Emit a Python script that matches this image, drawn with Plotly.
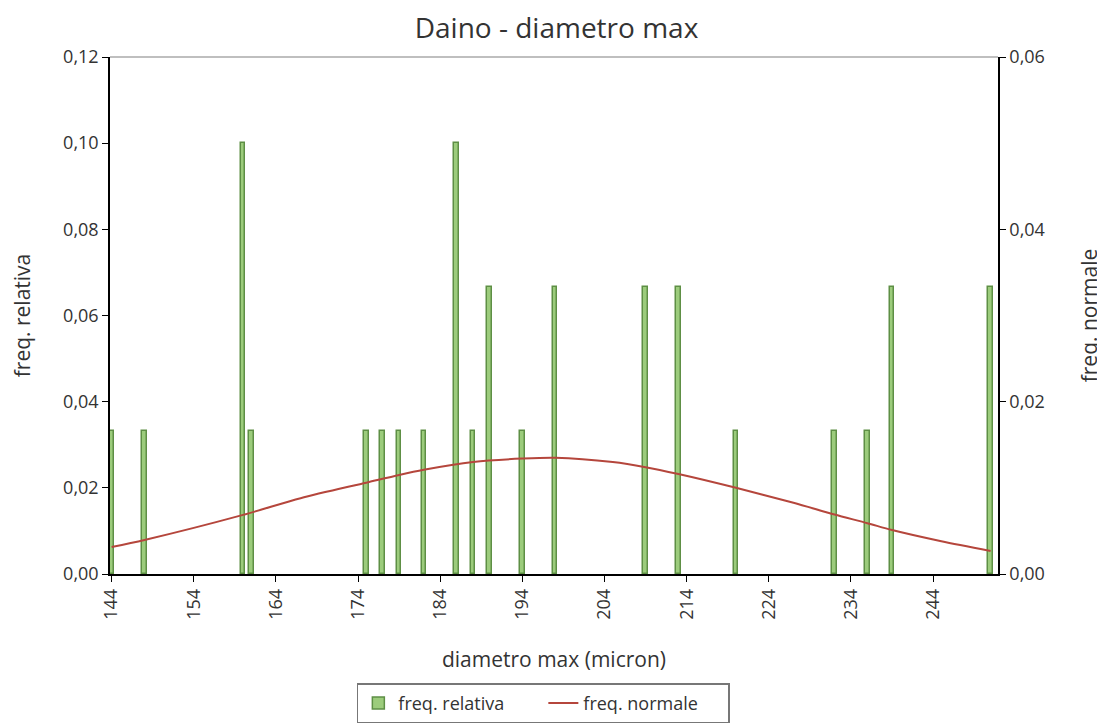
import plotly.graph_objects as go

# diametro max (micron) and relative frequency of each class
diametro = [144, 148, 160, 161, 175, 177, 179, 182, 186, 188,
            190, 194, 198, 209, 213, 220, 232, 236, 239, 251]
freq_relativa = [0.0333, 0.0333, 0.1, 0.0333, 0.0333, 0.0333, 0.0333, 0.0333, 0.1, 0.0333,
                 0.0667, 0.0333, 0.0667, 0.0667, 0.0667, 0.0333, 0.0333, 0.0333, 0.0667, 0.0667]

# normal curve (right axis)
x_normale = [144, 148, 160, 167, 175, 179, 182, 188, 194, 198,
             205, 209, 213, 220, 227, 232, 236, 239, 245, 251]
freq_normale = [0.00314, 0.00395, 0.00686, 0.00880, 0.0106, 0.0115, 0.0121, 0.0130, 0.0134, 0.0135,
                0.0130, 0.0124, 0.0116, 0.0100, 0.00826, 0.00690, 0.00590, 0.0051, 0.00380, 0.00267]

x_ticks = list(range(144, 245, 10))

font_fam = "Open Sans"
txt = "#333333"

fig = go.Figure()
fig.add_trace(go.Bar(x=diametro, y=freq_relativa, name="freq. relativa", width=0.55,
                     marker=dict(color="#9ccc7c", line=dict(color="#5e8f45", width=1.5))))
fig.add_trace(go.Scatter(x=x_normale, y=freq_normale, name="freq. normale", yaxis="y2",
                         mode="lines", line=dict(color="#b5463c", width=2, shape="spline", smoothing=0.8)))

# page body has an 8px margin, so the figure is a bit smaller than the window
fig.update_layout(
    width=1097, height=716,
    margin=dict(l=102, r=107, t=49, b=150),
    paper_bgcolor="white", plot_bgcolor="white",
    separators=",.",
    font=dict(family=font_fam, size=18, color=txt),
    title=dict(text="Daino - diametro max", x=0.5, xanchor="center", y=0.972, yanchor="middle",
               font=dict(size=28, color=txt)),
    showlegend=True,
    legend=dict(orientation="h", x=0.488, xanchor="center", yref="container", y=0.057, yanchor="top",
                bordercolor="#777777", borderwidth=1.5, font=dict(size=18),
                itemwidth=30, entrywidth=140),
    xaxis=dict(range=[143.8, 251.9], tickvals=x_ticks, tickangle=-90, automargin=False,
               showline=True, linecolor="black", linewidth=1.5, mirror=False,
               ticks="outside", ticklen=6, tickcolor="black", showgrid=False, zeroline=False,
               title=dict(text="diametro max (micron)", standoff=33, font=dict(size=21)),
               tickfont=dict(size=18)),
    yaxis=dict(range=[0, 0.12], dtick=0.02, tickformat=".2f", automargin=False,
               showline=True, linecolor="black", linewidth=1.5,
               ticks="outside", ticklen=6, tickcolor="black", showgrid=False, zeroline=False,
               title=dict(text="freq. relativa", standoff=28, font=dict(size=21)),
               tickfont=dict(size=18)),
    yaxis2=dict(range=[0, 0.06], dtick=0.02, tickformat=".2f", overlaying="y", side="right",
                automargin=False,
                showline=True, linecolor="black", linewidth=1.5,
                ticks="outside", ticklen=6, tickcolor="black", showgrid=False, zeroline=False,
                title=dict(text="freq. normale", standoff=38, font=dict(size=21)),
                tickfont=dict(size=18)),
    bargap=0,
)

# thin gray line on top of the plot area
fig.add_shape(type="line", xref="paper", yref="paper", x0=0, x1=1, y0=1, y1=1,
              line=dict(color="#aaaaaa", width=1.5))

fig.write_html("out.html")
